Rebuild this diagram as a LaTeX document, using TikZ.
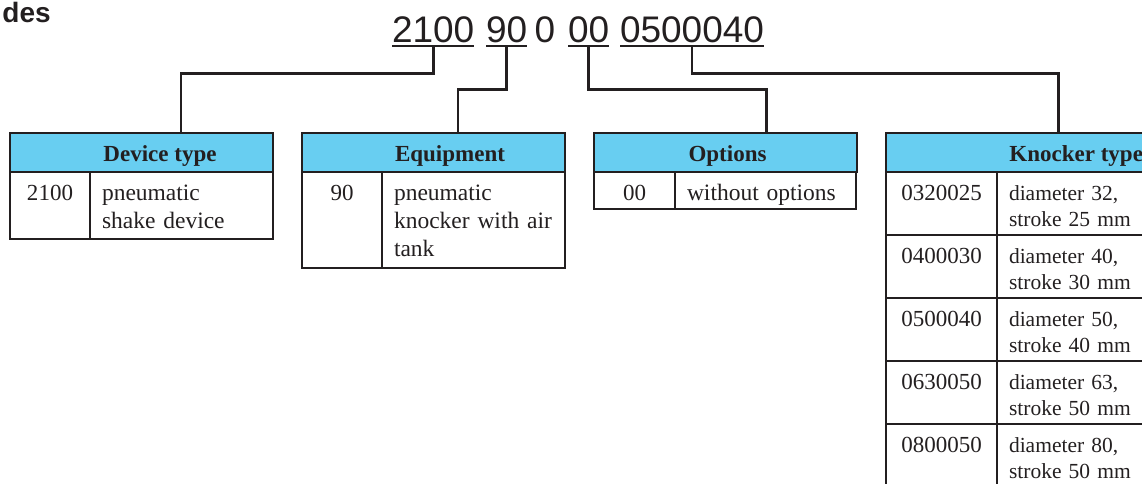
\documentclass[tikz,border=0pt]{standalone}
\usepackage{fontspec}
\setmainfont{Liberation Serif}
\setsansfont{Liberation Sans}
\usetikzlibrary{positioning}
\definecolor{hdrblue}{RGB}{104,206,241}
\definecolor{inkgrey}{RGB}{35,31,32}

\begin{document}
\begin{tikzpicture}[x=1pt, y=-1pt, color=inkgrey, line width=2.9pt,
    hdr/.style={draw, fill=hdrblue, minimum width=263pt, minimum height=39pt, inner sep=0pt, outer sep=0pt, anchor=north west},
    hdrtext/.style={font=\fontsize{23}{28}\selectfont\bfseries, inner sep=0pt, anchor=base},
    cell/.style={draw, inner xsep=12pt, inner ysep=0pt, outer sep=0pt, text height=28pt, align=left, font=\fontsize{23.5}{28}\selectfont},
    codecell/.style={cell, align=center, font=\fontsize{23}{28}\selectfont},
    kcell/.style={cell, text width=127pt, text depth=35pt, font=\fontsize{21.5}{26}\selectfont},
    kcodecell/.style={codecell, text width=87pt, text depth=35pt},
    code/.style={font=\sffamily\fontsize{37}{40}\selectfont, inner sep=0pt, outer sep=0pt, anchor=base west}
  ]
  \useasboundingbox (0,0) rectangle (1142,484);
  \clip (0,0) rectangle (1142,484);
  % title
  \node[font=\sffamily\bfseries\fontsize{28}{30}\selectfont, inner sep=0pt, anchor=base west] (title) at (1,23) {des};
  % order code
  \node[code] (k2100) at (392,43) {2100};
  \node[code] (k90) at (486,43) {90};
  \node[code, anchor=base] (kzero) at (545,43) {0};
  \node[code] (k00) at (568,43) {00};
  \node[code] (kknock) at (620,43) {0500040};
  \draw[line width=2pt] ([yshift=-3pt]k2100.south west) -- ([yshift=-3pt]k2100.south east);
  \draw[line width=2pt] ([yshift=-3pt]k90.south west) -- ([yshift=-3pt]k90.south east);
  \draw[line width=2pt] ([yshift=-3pt]k00.south west) -- ([yshift=-3pt]k00.south east);
  \draw[line width=2pt] ([yshift=-3pt]kknock.south west) -- ([yshift=-3pt]kknock.south east);
  % device type
  \node[hdr] (hdev) at (10,133) {};
  \node[hdrtext] (tdev) at ([xshift=18.5pt,yshift=-8.5pt]hdev.center) {Device type};
  \node[codecell, text width=56pt, text depth=39pt, below right=0pt and 0pt of hdev.south west] (dev1) {2100};
  \node[cell, text width=159pt, text depth=39pt, below right=0pt and 0pt of dev1.north east] (devtxt1) {pneumatic\\shake device};
  % equipment
  \node[hdr] (hequ) at (302,133) {};
  \node[hdrtext] (tequ) at ([xshift=16.5pt,yshift=-8.5pt]hequ.center) {Equipment};
  \node[codecell, text width=56pt, text depth=68pt, below right=0pt and 0pt of hequ.south west] (equ1) {90};
  \node[cell, text width=159pt, text depth=68pt, below right=0pt and 0pt of equ1.north east] (equtxt1) {pneumatic\\knocker with air\\tank};
  % options
  \node[hdr] (hopt) at (594,133) {};
  \node[hdrtext] (topt) at ([xshift=2pt,yshift=-8.5pt]hopt.center) {Options};
  \node[codecell, text width=57pt, text depth=9pt, below right=0pt and 0pt of hopt.south west] (opt1) {00};
  \node[cell, text width=157pt, text depth=9pt, below right=0pt and 0pt of opt1.north east] (opttxt1) {without options};
  % knocker type
  \node[hdr] (hkno) at (886,133) {};
  \node[hdrtext, anchor=base west] (tkno) at (1008,161) {Knocker type};
  \node[kcodecell, below right=0pt and 0pt of hkno.south west] (kno1) {0320025};
  \node[kcell, below right=0pt and 0pt of kno1.north east] (knotxt1) {diameter 32,\\stroke 25 mm};
  \node[kcodecell, below right=0pt and 0pt of kno1.south west] (kno2) {0400030};
  \node[kcell, below right=0pt and 0pt of kno2.north east] (knotxt2) {diameter 40,\\stroke 30 mm};
  \node[kcodecell, below right=0pt and 0pt of kno2.south west] (kno3) {0500040};
  \node[kcell, below right=0pt and 0pt of kno3.north east] (knotxt3) {diameter 50,\\stroke 40 mm};
  \node[kcodecell, below right=0pt and 0pt of kno3.south west] (kno4) {0630050};
  \node[kcell, below right=0pt and 0pt of kno4.north east] (knotxt4) {diameter 63,\\stroke 50 mm};
  \node[kcodecell, below right=0pt and 0pt of kno4.south west] (kno5) {0800050};
  \node[kcell, below right=0pt and 0pt of kno5.north east] (knotxt5) {diameter 80,\\stroke 50 mm};
  % connectors
  \draw (k2100.south) ++(0,3) -- ++(0,27) -| ([xshift=39.5pt]hdev.north);
  \draw (k90.south) ++(0,3) -- ++(0,43) -| ([xshift=24.5pt]hequ.north);
  \draw (k00.south) ++(0,3) -- ++(0,43) -| ([xshift=41pt]hopt.north);
  \draw (kknock.south) ++(0,3) -- ++(0,27) -| ([xshift=41pt]hkno.north);
\end{tikzpicture}
\end{document}
